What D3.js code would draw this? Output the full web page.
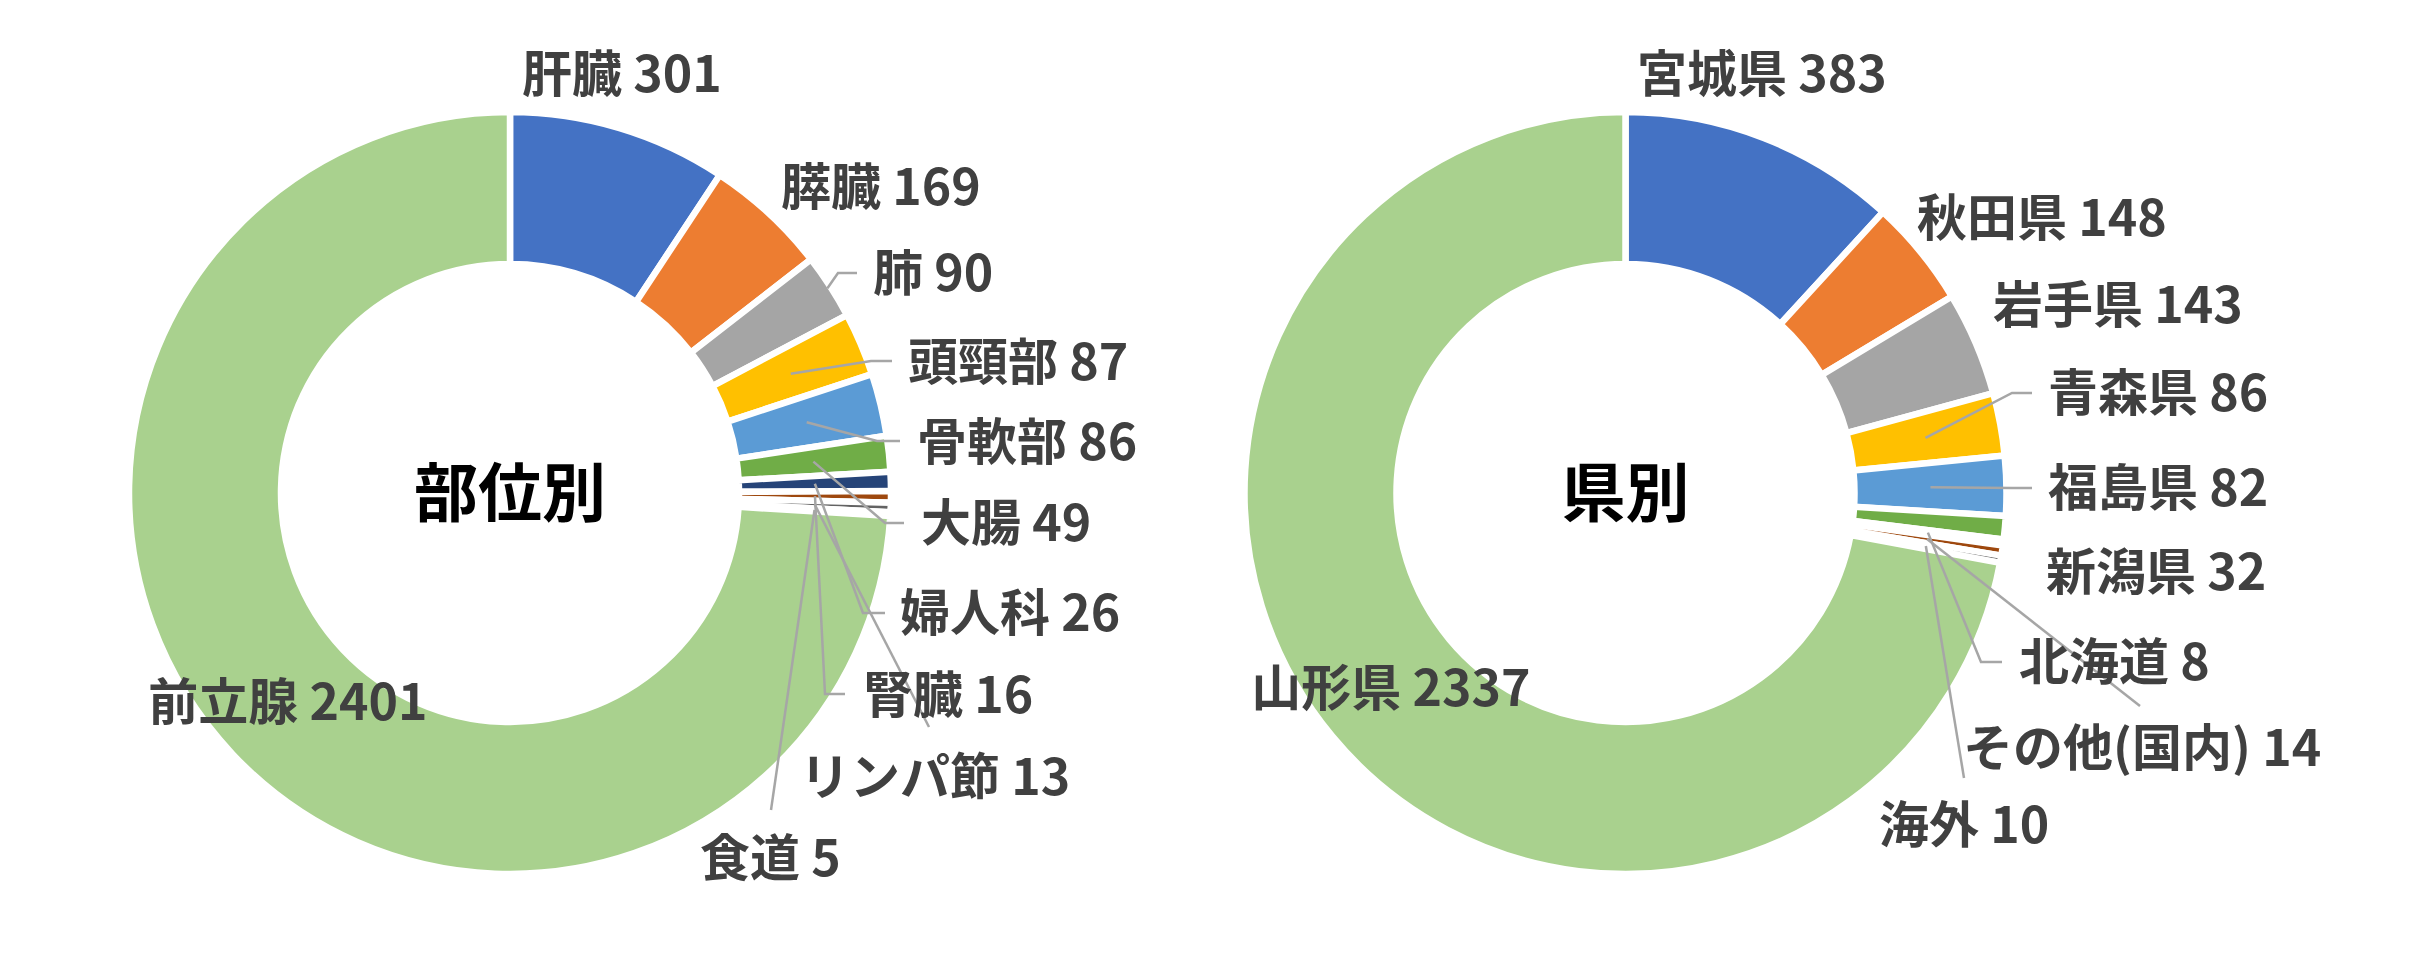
<!DOCTYPE html>
<html><head><meta charset="utf-8">
<script src="https://cdn.jsdelivr.net/npm/d3@7"></script>
<style>body{margin:0;background:#fff} svg{display:block}</style>
</head><body>
<script>
// ---- data ----
const chartTitles = ["部位別", "県別"];
const siteCategories = ["肝臓","膵臓","肺","頭頸部","骨軟部","大腸","婦人科","腎臓","リンパ節","食道","前立腺"];
const siteValues = [301,169,90,87,86,49,26,16,13,5,2401];
const prefCategories = ["宮城県","秋田県","岩手県","青森県","福島県","新潟県","北海道","その他(国内)","海外","山形県"];
const prefValues = [383,148,143,86,82,32,8,14,10,2337];

// ---- styles ----
const siteColors = ["#4472C4","#ED7D31","#A5A5A5","#FFC000","#5B9BD5","#70AD47","#264478","#9E480E","#636363","#997300","#A9D18E"];
const prefColors = ["#4472C4","#ED7D31","#A5A5A5","#FFC000","#5B9BD5","#70AD47","#264478","#9E480E","#636363","#A9D18E"];

// ---- label layout (text left x, text centre y, leader elbow/end points) ----
const siteLayout = [
  {x:522, y:74},
  {x:781, y:187},
  {x:873, y:273, from:"outer", pts:[[838,273],[857,273]]},
  {x:908, y:362, pts:[[871,361],[892,361]]},
  {x:917, y:442, pts:[[877,441],[900,441]]},
  {x:921, y:523, pts:[[885,523],[904,523]]},
  {x:900, y:613, pts:[[863,613],[885,613]]},
  {x:863, y:695, pts:[[825,694],[845,694]]},
  {x:800, y:777, pts:[[929,727]]},
  {x:700, y:858, pts:[[771,810]]},
  {centroid:true}
];
const prefLayout = [
  {x:1637, y:74},
  {x:1917, y:218},
  {x:1993, y:305},
  {x:2048, y:393, pts:[[2012,393],[2032,393]]},
  {x:2048, y:488, pts:[[2012,488],[2032,488]]},
  {x:2046, y:572},
  {x:2019, y:662, pts:[[1981,662],[2002,662]]},
  {x:1963, y:748, pts:[[2140,706]]},
  {x:1879, y:825, pts:[[1964,778]]},
  {centroid:true}
];

const W = 2415, H = 953;
const R = 381, r0 = 229, gap = 6.5;
const labelFont = "'Noto Sans CJK JP','Noto Sans',sans-serif";

const svg = d3.select("body").append("svg").attr("width", W).attr("height", H);
svg.append("rect").attr("width", W).attr("height", H).attr("fill", "#fff");

const charts = [
  {title: chartTitles[0], cats: siteCategories, vals: siteValues, colors: siteColors, layout: siteLayout, cx: 510, cy: 493},
  {title: chartTitles[1], cats: prefCategories, vals: prefValues, colors: prefColors, layout: prefLayout, cx: 1625.5, cy: 493}
];

const arc = d3.arc().innerRadius(r0).outerRadius(R);
const outerArc = d3.arc().innerRadius(R - gap/2).outerRadius(R - gap/2);
const pie = d3.pie().sort(null).value(d => d.v).startAngle(0).endAngle(2 * Math.PI);

charts.forEach(c => {
  const data = c.cats.map((k, i) => ({k, v: c.vals[i], col: c.colors[i], lay: c.layout[i]}));
  const arcs = pie(data);
  const g = svg.append("g").attr("transform", `translate(${c.cx},${c.cy})`);
  g.selectAll("path.slice").data(arcs).enter().append("path")
    .attr("class", "slice")
    .attr("d", arc)
    .attr("fill", d => d.data.col)
    .attr("stroke", "#fff")
    .attr("stroke-width", gap)
    .attr("stroke-linejoin", "miter");

  // leader lines
  arcs.forEach(a => {
    const L = a.data.lay;
    if (!L.pts) return;
    const s = (L.from === "outer" ? outerArc : arc).centroid(a);
    const pts = [[s[0] + c.cx, s[1] + c.cy]].concat(L.pts);
    svg.append("path")
      .attr("d", d3.line()(pts))
      .attr("fill", "none")
      .attr("stroke", "#A6A6A6")
      .attr("stroke-width", 2.5);
  });

  // labels
  arcs.forEach(a => {
    const L = a.data.lay;
    const txt = a.data.k + " " + a.data.v;
    let x, y, anchor;
    if (L.centroid) {
      const p = arc.centroid(a);
      x = p[0] + c.cx; y = p[1] + c.cy; anchor = "middle";
    } else {
      x = L.x; y = L.y; anchor = "start";
    }
    svg.append("text")
      .attr("x", x).attr("y", y).attr("dy", "0.36em")
      .attr("text-anchor", anchor)
      .attr("font-family", labelFont)
      .attr("font-size", 50)
      .attr("font-weight", "bold")
      .attr("fill", "#404040")
      .text(txt);
  });

  // centre title
  g.append("text")
    .attr("x", 0).attr("y", 0).attr("dy", "0.36em")
    .attr("text-anchor", "middle")
    .attr("font-family", labelFont)
    .attr("font-size", 64)
    .attr("font-weight", "bold")
    .attr("fill", "#000")
    .text(c.title);
});
</script>
</body></html>
